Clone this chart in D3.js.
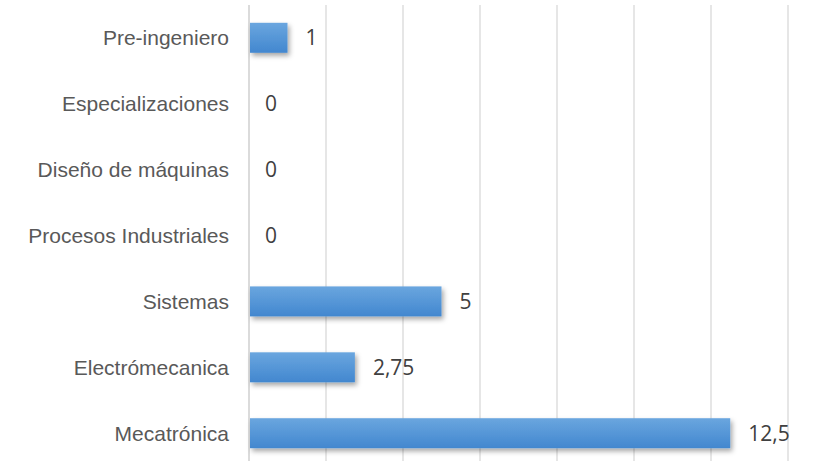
<!DOCTYPE html>
<html>
<head>
<meta charset="utf-8">
<script src="https://cdn.jsdelivr.net/npm/d3@7"></script>
<style>
body { margin: 0; background: #fff; }
</style>
</head>
<body>
<div id="chart"></div>
<script>
// categories from top to bottom
var categories = ["Pre-ingeniero", "Especializaciones", "Diseño de máquinas",
	"Procesos Industriales", "Sistemas", "Electrómecanica", "Mecatrónica"];
var values = [1, 0, 0, 0, 5, 2.75, 12.5];
var valueLabels = ["1", "0", "0", "0", "5", "2,75", "12,5"];
var gridTicks = [0, 2, 4, 6, 8, 10, 12, 14];

var width = 818, height = 461;

var svg = d3.select("#chart").append("svg")
	.attr("width", width)
	.attr("height", height);

var defs = svg.append("defs");
var grad = defs.append("linearGradient")
	.attr("id", "barGrad")
	.attr("x1", 0).attr("y1", 0).attr("x2", 0).attr("y2", 1);
grad.append("stop").attr("offset", "0%").attr("stop-color", "#6aa6df");
grad.append("stop").attr("offset", "100%").attr("stop-color", "#4287cf");

var shadow = defs.append("filter")
	.attr("id", "shadow")
	.attr("x", "-10%").attr("y", "-30%")
	.attr("width", "130%").attr("height", "190%");
shadow.append("feDropShadow")
	.attr("dx", 2).attr("dy", 3)
	.attr("stdDeviation", 2.5)
	.attr("flood-color", "#000")
	.attr("flood-opacity", 0.35);

var x = d3.scaleLinear().domain([0, 14]).range([249, 788]);
var y = d3.scaleBand().domain(categories).range([5, 466]).paddingInner(0.545).paddingOuter(0.27);

// grid lines
svg.selectAll(".grid")
	.data(gridTicks)
	.enter().append("line")
	.attr("class", "grid")
	.attr("x1", function (d) { return x(d); })
	.attr("x2", function (d) { return x(d); })
	.attr("y1", 5)
	.attr("y2", 466)
	.style("stroke", function (d) { return d == 0 ? "#c8c8c8" : "#d9d9d9"; })
	.style("stroke-width", 1.3);

// bars (skip zero values)
svg.selectAll(".bar")
	.data(values.map(function (v, i) { return { name: categories[i], value: v }; })
		.filter(function (d) { return d.value > 0; }))
	.enter().append("rect")
	.attr("class", "bar")
	.attr("x", x(0) + 1)
	.attr("y", function (d) { return y(d.name); })
	.attr("width", function (d) { return x(d.value) - x(0) - 1; })
	.attr("height", y.bandwidth())
	.style("fill", "url(#barGrad)")
	.attr("filter", "url(#shadow)");

// value labels
svg.selectAll(".val")
	.data(values)
	.enter().append("text")
	.attr("class", "val")
	.attr("x", function (d) { return x(d) + (d > 0 ? 18 : 16); })
	.attr("y", function (d, i) { return y(categories[i]) + y.bandwidth() / 2; })
	.attr("dy", "0.36em")
	.style("font-family", "'Open Sans', sans-serif")
	.style("font-size", "21px")
	.style("fill", "#404040")
	.text(function (d, i) { return valueLabels[i]; });

// category labels
svg.selectAll(".cat")
	.data(categories)
	.enter().append("text")
	.attr("class", "cat")
	.attr("x", 229)
	.attr("y", function (d) { return y(d) + y.bandwidth() / 2; })
	.attr("dy", "0.36em")
	.attr("text-anchor", "end")
	.style("font-family", "'Liberation Sans', Arial, sans-serif")
	.style("font-size", "21px")
	.style("fill", "#595959")
	.text(function (d) { return d; });
</script>
</body>
</html>
